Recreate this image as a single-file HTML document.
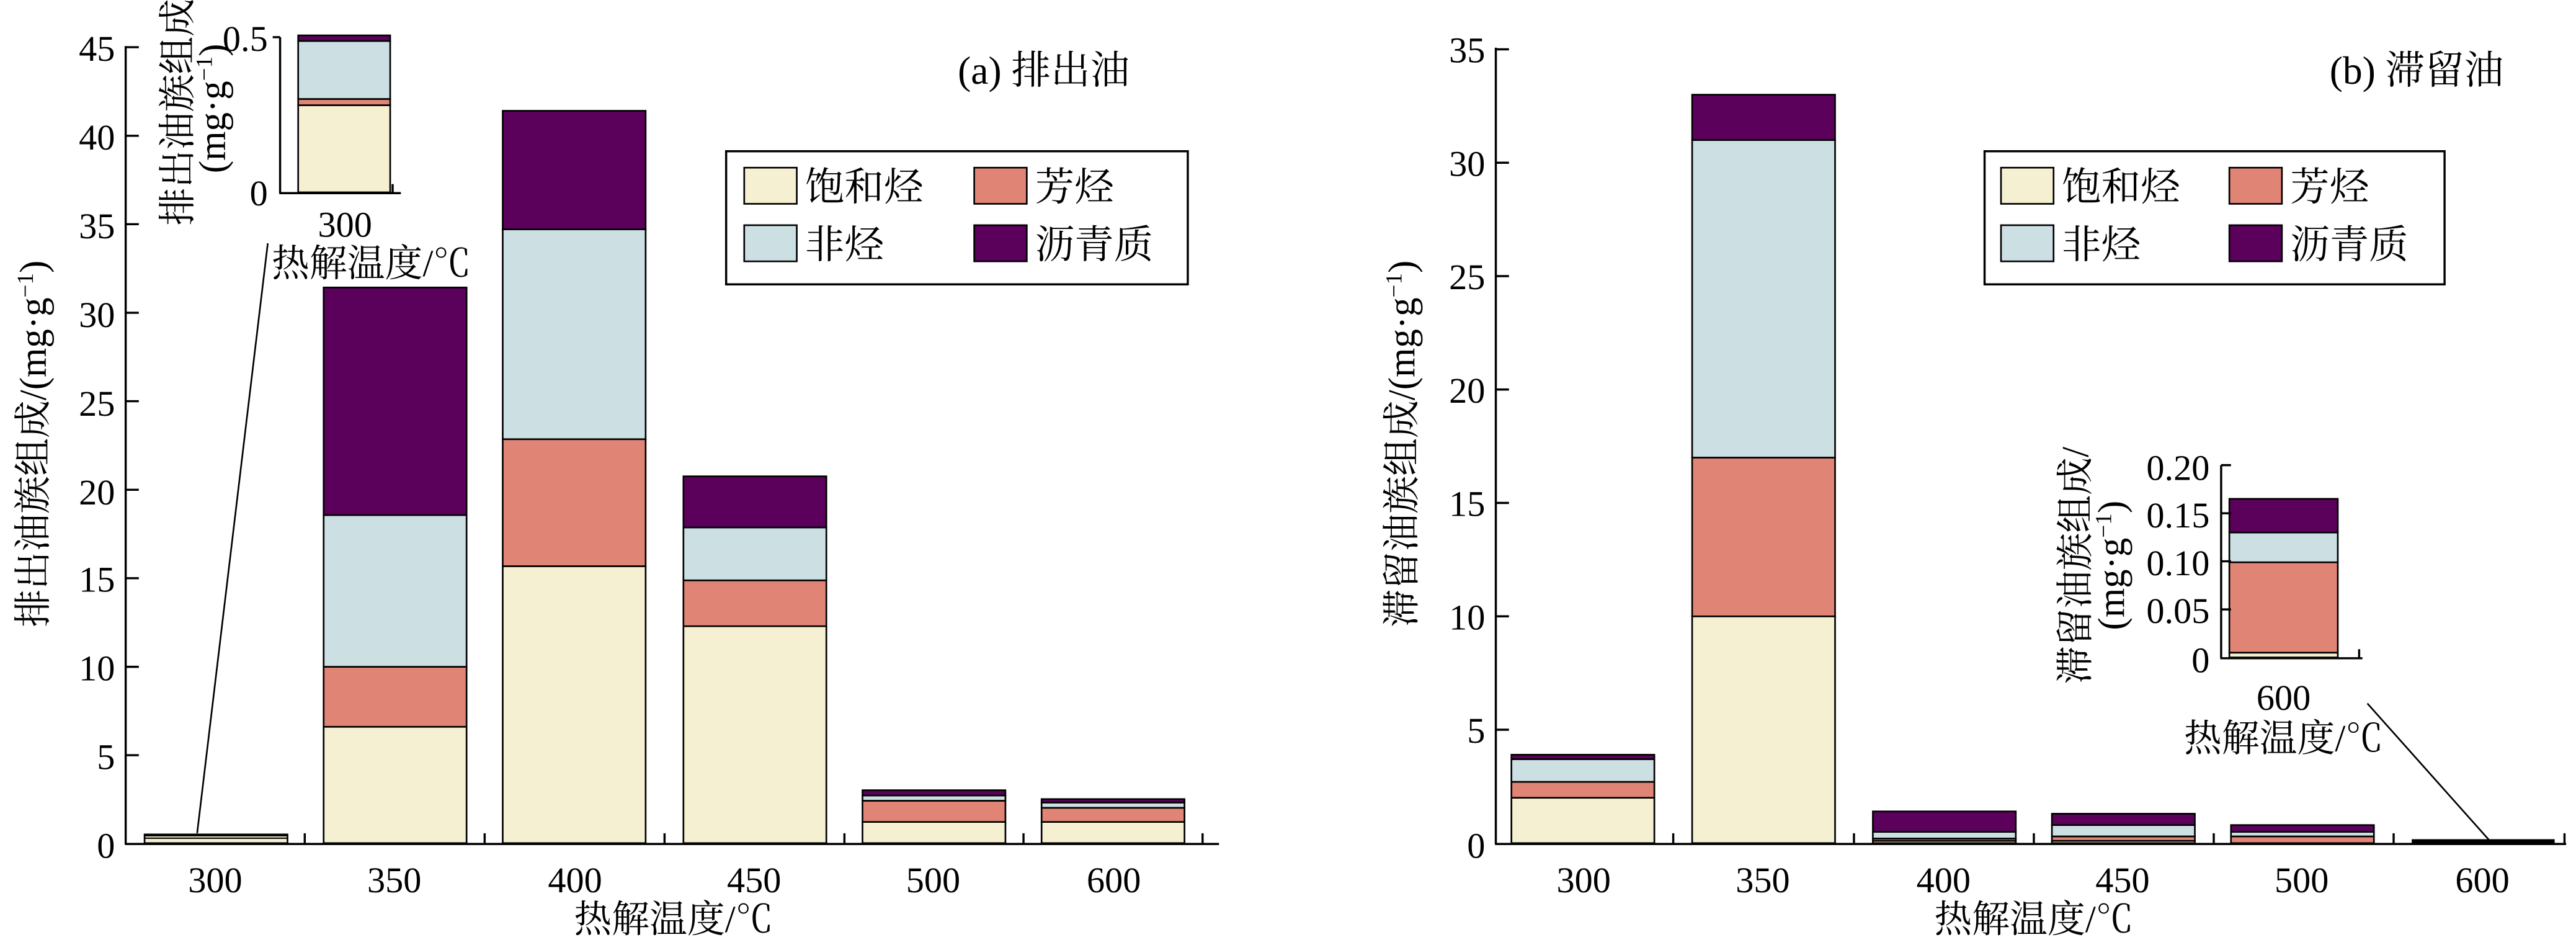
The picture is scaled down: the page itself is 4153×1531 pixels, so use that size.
<!DOCTYPE html>
<html><head><meta charset="utf-8"><style>
html,body{margin:0;padding:0;background:#fff;}
svg{display:block;}
text{font-family:"Liberation Serif","Noto Serif CJK SC","Noto Sans CJK SC",serif;fill:#000;}
.t{font-size:22px;}
.c{font-size:23px;}
.l{font-size:24px;}
rect.b{stroke:#000;stroke-width:1;}
.s{fill:#f5f0d2}.a{fill:#e08576}.n{fill:#cce0e4}.p{fill:#5b005b}
</style></head><body>
<svg width="4153" height="1531" viewBox="0 0 1568 578" xmlns="http://www.w3.org/2000/svg">
<!-- LEFT CHART -->
<g>
<rect class="b s" x="88" y="507.7" width="87" height="5.3"/>
<line x1="88" y1="510" x2="175" y2="510" stroke="#000" stroke-width="0.8"/>
<line x1="88" y1="508.5" x2="175" y2="508.5" stroke="#000" stroke-width="0.8"/>

<rect class="b s" x="197" y="442.2" width="87" height="70.8"/>
<rect class="b a" x="197" y="405.7" width="87" height="36.5"/>
<rect class="b n" x="197" y="313.4" width="87" height="92.3"/>
<rect class="b p" x="197" y="174.9" width="87" height="138.5"/>

<rect class="b s" x="306" y="344.5" width="87" height="168.5"/>
<rect class="b a" x="306" y="267.2" width="87" height="77.3"/>
<rect class="b n" x="306" y="139.5" width="87" height="127.7"/>
<rect class="b p" x="306" y="67.4" width="87" height="72.1"/>

<rect class="b s" x="416" y="381" width="87" height="132"/>
<rect class="b a" x="416" y="353.1" width="87" height="27.9"/>
<rect class="b n" x="416" y="320.9" width="87" height="32.2"/>
<rect class="b p" x="416" y="289.8" width="87" height="31.1"/>

<rect class="b s" x="525" y="500.1" width="87" height="12.9"/>
<rect class="b a" x="525" y="487.2" width="87" height="12.9"/>
<rect class="b n" x="525" y="484" width="87" height="3.2"/>
<rect class="b p" x="525" y="480.8" width="87" height="3.2"/>

<rect class="b s" x="634" y="500.1" width="87" height="12.9"/>
<rect class="b a" x="634" y="491.5" width="87" height="8.6"/>
<rect class="b n" x="634" y="488.3" width="87" height="3.2"/>
<rect class="b p" x="634" y="486.2" width="87" height="2.1"/>

<g stroke="#000" stroke-width="1.3" fill="none">
<line x1="76.5" y1="28" x2="76.5" y2="513.5"/>
<line x1="76" y1="513.5" x2="742" y2="513.5"/>
<line x1="76.5" y1="28.7" x2="84.5" y2="28.7"/>
<line x1="76.5" y1="82.6" x2="84.5" y2="82.6"/>
<line x1="76.5" y1="136.4" x2="84.5" y2="136.4"/>
<line x1="76.5" y1="190.3" x2="84.5" y2="190.3"/>
<line x1="76.5" y1="244.1" x2="84.5" y2="244.1"/>
<line x1="76.5" y1="298" x2="84.5" y2="298"/>
<line x1="76.5" y1="351.8" x2="84.5" y2="351.8"/>
<line x1="76.5" y1="405.7" x2="84.5" y2="405.7"/>
<line x1="76.5" y1="459.5" x2="84.5" y2="459.5"/>
<line x1="185.5" y1="513.5" x2="185.5" y2="507"/>
<line x1="295" y1="513.5" x2="295" y2="507"/>
<line x1="404.5" y1="513.5" x2="404.5" y2="507"/>
<line x1="514" y1="513.5" x2="514" y2="507"/>
<line x1="623" y1="513.5" x2="623" y2="507"/>
<line x1="732" y1="513.5" x2="732" y2="507"/>
</g>
<g class="t" text-anchor="end">
<text x="70" y="37">45</text><text x="70" y="91">40</text><text x="70" y="145">35</text>
<text x="70" y="199">30</text><text x="70" y="253">25</text><text x="70" y="307">20</text>
<text x="70" y="360">15</text><text x="70" y="414">10</text><text x="70" y="468">5</text>
<text x="70" y="522">0</text>
</g>
<g class="t" text-anchor="middle">
<text x="131" y="543">300</text><text x="240" y="543">350</text><text x="350" y="543">400</text>
<text x="459" y="543">450</text><text x="568" y="543">500</text><text x="678" y="543">600</text>
</g>
<text class="c" x="410" y="567" text-anchor="middle">热解温度/℃</text>
<text class="c" text-anchor="middle" transform="translate(28,270) rotate(-90)">排出油族组成/(mg·g<tspan dy="-8" font-size="14">−1</tspan><tspan dy="8">)</tspan></text>
<text class="l" x="583" y="51">(a) 排出油</text>

<rect x="442" y="92" width="281" height="81" fill="#fff" stroke="#000" stroke-width="1.3"/>
<rect class="b s" x="453" y="102" width="32" height="22"/><text class="l" x="490" y="122">饱和烃</text>
<rect class="b a" x="593" y="102" width="32" height="22"/><text class="l" x="630" y="122">芳烃</text>
<rect class="b n" x="453" y="137" width="32" height="22"/><text class="l" x="490" y="157">非烃</text>
<rect class="b p" x="593" y="137" width="32" height="22"/><text class="l" x="630" y="157">沥青质</text>

<rect class="b s" x="181.5" y="64" width="56" height="53"/>
<rect class="b a" x="181.5" y="60.2" width="56" height="3.8"/>
<rect class="b n" x="181.5" y="24.9" width="56" height="35.3"/>
<rect class="b p" x="181.5" y="21.5" width="56" height="3.4"/>
<g stroke="#000" stroke-width="1.3" fill="none">
<line x1="170.5" y1="22.6" x2="170.5" y2="117.5"/>
<line x1="170" y1="117.5" x2="244" y2="117.5"/>
<line x1="170.5" y1="22.6" x2="166" y2="22.6"/>
<line x1="239" y1="117.5" x2="239" y2="112"/>
<line x1="120" y1="507" x2="163" y2="148" stroke-width="1"/>
</g>
<text class="t" x="163" y="31" text-anchor="end">0.5</text>
<text class="t" x="163" y="125" text-anchor="end">0</text>
<text class="t" x="210" y="144" text-anchor="middle">300</text>
<text class="c" x="226" y="168" text-anchor="middle">热解温度/℃</text>
<text class="c" text-anchor="middle" transform="translate(116,65) rotate(-90)">排出油族组成/</text>
<text class="c" text-anchor="middle" transform="translate(137,66) rotate(-90)">(mg·g<tspan dy="-8" font-size="14">−1</tspan><tspan dy="8">)</tspan></text>
</g>

<!-- RIGHT CHART -->
<g>
<rect class="b s" x="920" y="485.4" width="87" height="27.6"/>
<rect class="b a" x="920" y="475.7" width="87" height="9.7"/>
<rect class="b n" x="920" y="461.9" width="87" height="13.8"/>
<rect class="b p" x="920" y="459.2" width="87" height="2.7"/>

<rect class="b s" x="1030" y="375" width="87" height="138"/>
<rect class="b a" x="1030" y="278.4" width="87" height="96.6"/>
<rect class="b n" x="1030" y="85.2" width="87" height="193.2"/>
<rect class="b p" x="1030" y="57.6" width="87" height="27.6"/>

<rect class="b s" x="1140" y="511.6" width="87" height="1.4"/>
<rect class="b a" x="1140" y="510.2" width="87" height="1.4"/>
<rect class="b n" x="1140" y="506.1" width="87" height="4.1"/>
<rect class="b p" x="1140" y="493.7" width="87" height="12.4"/>

<rect class="b s" x="1249" y="511.6" width="87" height="1.4"/>
<rect class="b a" x="1249" y="508.9" width="87" height="2.7"/>
<rect class="b n" x="1249" y="502" width="87" height="6.9"/>
<rect class="b p" x="1249" y="495.1" width="87" height="6.9"/>

<rect class="b a" x="1358" y="508.9" width="87" height="4.1"/>
<rect class="b n" x="1358" y="506.1" width="87" height="2.8"/>
<rect class="b p" x="1358" y="502" width="87" height="4.1"/>

<rect x="1468" y="510.6" width="87" height="2.6" fill="#000"/>

<g stroke="#000" stroke-width="1.3" fill="none">
<line x1="910.5" y1="29" x2="910.5" y2="513.5"/>
<line x1="910" y1="513.5" x2="1562" y2="513.5"/>
<line x1="910.5" y1="30" x2="918.5" y2="30"/>
<line x1="910.5" y1="99" x2="918.5" y2="99"/>
<line x1="910.5" y1="168" x2="918.5" y2="168"/>
<line x1="910.5" y1="237" x2="918.5" y2="237"/>
<line x1="910.5" y1="306" x2="918.5" y2="306"/>
<line x1="910.5" y1="375" x2="918.5" y2="375"/>
<line x1="910.5" y1="444" x2="918.5" y2="444"/>
<line x1="1018.5" y1="513.5" x2="1018.5" y2="507"/>
<line x1="1128.5" y1="513.5" x2="1128.5" y2="507"/>
<line x1="1238" y1="513.5" x2="1238" y2="507"/>
<line x1="1347.5" y1="513.5" x2="1347.5" y2="507"/>
<line x1="1457" y1="513.5" x2="1457" y2="507"/>
<line x1="1561" y1="513.5" x2="1561" y2="507"/>
</g>
<g class="t" text-anchor="end">
<text x="904" y="38">35</text><text x="904" y="107">30</text><text x="904" y="176">25</text>
<text x="904" y="245">20</text><text x="904" y="314">15</text><text x="904" y="383">10</text>
<text x="904" y="452">5</text><text x="904" y="522">0</text>
</g>
<g class="t" text-anchor="middle">
<text x="964" y="543">300</text><text x="1073" y="543">350</text><text x="1183" y="543">400</text>
<text x="1292" y="543">450</text><text x="1401" y="543">500</text><text x="1511" y="543">600</text>
</g>
<text class="c" x="1238" y="567" text-anchor="middle">热解温度/℃</text>
<text class="c" text-anchor="middle" transform="translate(861,270) rotate(-90)">滞留油族组成/(mg·g<tspan dy="-8" font-size="14">−1</tspan><tspan dy="8">)</tspan></text>
<text class="l" x="1418" y="51">(b) 滞留油</text>

<rect x="1208" y="92" width="280" height="81" fill="#fff" stroke="#000" stroke-width="1.3"/>
<rect class="b s" x="1218" y="102" width="32" height="22"/><text class="l" x="1255" y="122">饱和烃</text>
<rect class="b a" x="1357" y="102" width="32" height="22"/><text class="l" x="1394" y="122">芳烃</text>
<rect class="b n" x="1218" y="137" width="32" height="22"/><text class="l" x="1255" y="157">非烃</text>
<rect class="b p" x="1357" y="137" width="32" height="22"/><text class="l" x="1394" y="157">沥青质</text>

<rect class="b s" x="1357" y="397.1" width="66" height="2.9"/>
<rect class="b a" x="1357" y="342.1" width="66" height="55"/>
<rect class="b n" x="1357" y="324" width="66" height="18.1"/>
<rect class="b p" x="1357" y="303.5" width="66" height="20.5"/>
<g stroke="#000" stroke-width="1.3" fill="none">
<line x1="1352" y1="283" x2="1352" y2="400.5"/>
<line x1="1351.5" y1="400.5" x2="1438" y2="400.5"/>
<line x1="1352" y1="283" x2="1358" y2="283"/>
<line x1="1352" y1="312.3" x2="1358" y2="312.3"/>
<line x1="1352" y1="341.5" x2="1358" y2="341.5"/>
<line x1="1352" y1="370.8" x2="1358" y2="370.8"/>
<line x1="1436" y1="400.5" x2="1436" y2="395"/>
<line x1="1441" y1="428" x2="1515" y2="511" stroke-width="1"/>
</g>
<g class="t" text-anchor="end">
<text x="1345" y="292">0.20</text><text x="1345" y="321">0.15</text><text x="1345" y="350">0.10</text>
<text x="1345" y="379">0.05</text><text x="1345" y="409">0</text>
</g>
<text class="t" x="1390" y="432" text-anchor="middle">600</text>
<text class="c" x="1390" y="457" text-anchor="middle">热解温度/℃</text>
<text class="c" text-anchor="middle" transform="translate(1271,344) rotate(-90)">滞留油族组成/</text>
<text class="c" text-anchor="middle" transform="translate(1293,344) rotate(-90)">(mg·g<tspan dy="-8" font-size="14">−1</tspan><tspan dy="8">)</tspan></text>
</g>
</svg>
</body></html>
